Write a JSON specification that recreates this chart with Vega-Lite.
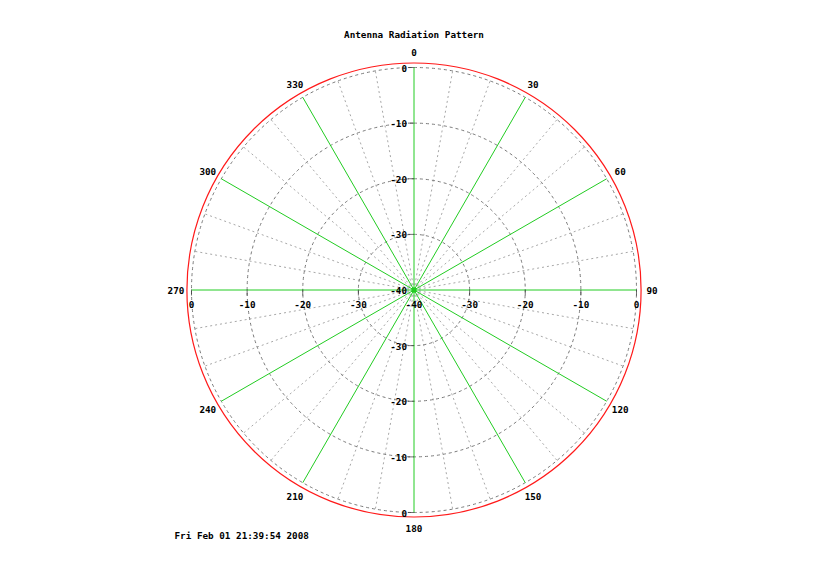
{
  "$schema": "https://vega.github.io/schema/vega-lite/v6.json",
  "width": 828,
  "height": 554,
  "autosize": "none",
  "padding": {"left": 0, "top": 13, "right": 1, "bottom": 0},
  "background": "white",
  "title": {
    "text": "Antenna Radiation Pattern",
    "anchor": "middle",
    "frame": "group",
    "offset": -31,
    "baseline": "middle",
    "font": "DejaVu Sans Mono",
    "fontSize": 9.3,
    "fontWeight": "bold",
    "color": "#000000"
  },
  "config": {
    "view": {"stroke": null},
    "axisX": {"domain": false, "ticks": false, "labels": false, "grid": false}
  },
  "datasets": {
    "rings": [{"db": 0}, {"db": -10}, {"db": -20}, {"db": -30}],
    "spokes": [
      {"angle": 0, "x0": 0, "y0": 0, "x": 0, "y": 40},
      {"angle": 10, "x0": 0, "y0": 0, "x": 6.946, "y": 39.392},
      {"angle": 20, "x0": 0, "y0": 0, "x": 13.681, "y": 37.588},
      {"angle": 30, "x0": 0, "y0": 0, "x": 20, "y": 34.641},
      {"angle": 40, "x0": 0, "y0": 0, "x": 25.712, "y": 30.642},
      {"angle": 50, "x0": 0, "y0": 0, "x": 30.642, "y": 25.712},
      {"angle": 60, "x0": 0, "y0": 0, "x": 34.641, "y": 20},
      {"angle": 70, "x0": 0, "y0": 0, "x": 37.588, "y": 13.681},
      {"angle": 80, "x0": 0, "y0": 0, "x": 39.392, "y": 6.946},
      {"angle": 90, "x0": 0, "y0": 0, "x": 40, "y": 0},
      {"angle": 100, "x0": 0, "y0": 0, "x": 39.392, "y": -6.946},
      {"angle": 110, "x0": 0, "y0": 0, "x": 37.588, "y": -13.681},
      {"angle": 120, "x0": 0, "y0": 0, "x": 34.641, "y": -20},
      {"angle": 130, "x0": 0, "y0": 0, "x": 30.642, "y": -25.712},
      {"angle": 140, "x0": 0, "y0": 0, "x": 25.712, "y": -30.642},
      {"angle": 150, "x0": 0, "y0": 0, "x": 20, "y": -34.641},
      {"angle": 160, "x0": 0, "y0": 0, "x": 13.681, "y": -37.588},
      {"angle": 170, "x0": 0, "y0": 0, "x": 6.946, "y": -39.392},
      {"angle": 180, "x0": 0, "y0": 0, "x": 0, "y": -40},
      {"angle": 190, "x0": 0, "y0": 0, "x": -6.946, "y": -39.392},
      {"angle": 200, "x0": 0, "y0": 0, "x": -13.681, "y": -37.588},
      {"angle": 210, "x0": 0, "y0": 0, "x": -20, "y": -34.641},
      {"angle": 220, "x0": 0, "y0": 0, "x": -25.712, "y": -30.642},
      {"angle": 230, "x0": 0, "y0": 0, "x": -30.642, "y": -25.712},
      {"angle": 240, "x0": 0, "y0": 0, "x": -34.641, "y": -20},
      {"angle": 250, "x0": 0, "y0": 0, "x": -37.588, "y": -13.681},
      {"angle": 260, "x0": 0, "y0": 0, "x": -39.392, "y": -6.946},
      {"angle": 270, "x0": 0, "y0": 0, "x": -40, "y": 0},
      {"angle": 280, "x0": 0, "y0": 0, "x": -39.392, "y": 6.946},
      {"angle": 290, "x0": 0, "y0": 0, "x": -37.588, "y": 13.681},
      {"angle": 300, "x0": 0, "y0": 0, "x": -34.641, "y": 20},
      {"angle": 310, "x0": 0, "y0": 0, "x": -30.642, "y": 25.712},
      {"angle": 320, "x0": 0, "y0": 0, "x": -25.712, "y": 30.642},
      {"angle": 330, "x0": 0, "y0": 0, "x": -20, "y": 34.641},
      {"angle": 340, "x0": 0, "y0": 0, "x": -13.681, "y": 37.588},
      {"angle": 350, "x0": 0, "y0": 0, "x": -6.946, "y": 39.392}
    ],
    "angleLabels": [
      {"angle": 0}, {"angle": 30}, {"angle": 60}, {"angle": 90},
      {"angle": 120}, {"angle": 150}, {"angle": 180}, {"angle": 210},
      {"angle": 240}, {"angle": 270}, {"angle": 300}, {"angle": 330}
    ],
    "dbLabels": [
      {"angle": 270, "db": 0}, {"angle": 270, "db": -10}, {"angle": 270, "db": -20},
      {"angle": 270, "db": -30}, {"angle": 270, "db": -40},
      {"angle": 90, "db": -30}, {"angle": 90, "db": -20}, {"angle": 90, "db": -10}, {"angle": 90, "db": 0},
      {"angle": 0, "db": 0}, {"angle": 0, "db": -10}, {"angle": 0, "db": -20},
      {"angle": 0, "db": -30}, {"angle": 0, "db": -40},
      {"angle": 180, "db": -30}, {"angle": 180, "db": -20}, {"angle": 180, "db": -10}, {"angle": 180, "db": 0}
    ],
    "ticks": [{"r": -40}, {"r": -30}, {"r": -20}, {"r": -10}, {"r": 10}, {"r": 20}, {"r": 30}, {"r": 40}]
  },
  "layer": [
    {
      "data": {"name": "spokes"},
      "transform": [{"filter": "datum.angle % 30 != 0"}],
      "mark": {"type": "rule", "color": "#a8a8a8", "strokeWidth": 1, "strokeDash": [2, 3]},
      "encoding": {
        "x": {"field": "x0", "type": "quantitative", "scale": {"domain": [-74.427, 74.427], "nice": false, "zero": false},
          "axis": {"title": "Fri Feb 01 21:39:54 2008", "titleX": 174, "titleY": -32, "titleAlign": "left", "titleBaseline": "middle", "titleAnchor": "start", "titleFont": "DejaVu Sans Mono", "titleFontSize": 9.3, "titleFontWeight": "bold", "titleColor": "#000000"}},
        "y": {"field": "y0", "type": "quantitative", "scale": {"domain": [-49.798, 49.798], "nice": false, "zero": false}, "axis": null},
        "x2": {"field": "x"},
        "y2": {"field": "y"}
      }
    },
    {
      "data": {"name": "rings"},
      "mark": {"type": "arc", "theta": 0, "theta2": 6.2832, "radius2": 0, "filled": false, "color": "#7a7a7a", "strokeWidth": 1, "strokeDash": [3, 3]},
      "encoding": {
        "radius": {"field": "db", "type": "quantitative", "stack": false, "scale": {"type": "linear", "domain": [-40, 0], "range": [0, 222.5], "zero": false, "nice": false}}
      }
    },
    {
      "data": {"name": "rings"},
      "transform": [{"filter": "datum.db == 0"}],
      "mark": {"type": "arc", "theta": 0, "theta2": 6.2832, "radius2": 0, "filled": false, "color": "#ff1a1a", "strokeWidth": 1.2},
      "encoding": {
        "radius": {"datum": 0.81, "type": "quantitative"}
      }
    },
    {
      "data": {"name": "spokes"},
      "transform": [{"filter": "datum.angle % 30 == 0"}],
      "mark": {"type": "rule", "color": "#22cc22", "strokeWidth": 1},
      "encoding": {
        "x": {"field": "x0", "type": "quantitative"},
        "y": {"field": "y0", "type": "quantitative", "axis": null},
        "x2": {"field": "x"},
        "y2": {"field": "y"}
      }
    },
    {
      "data": {"name": "ticks"},
      "mark": {"type": "tick", "orient": "vertical", "color": "#333333", "size": 6, "thickness": 1},
      "encoding": {
        "x": {"field": "r", "type": "quantitative"},
        "y": {"datum": -0.45, "type": "quantitative", "axis": null}
      }
    },
    {
      "data": {"name": "ticks"},
      "mark": {"type": "tick", "orient": "horizontal", "color": "#333333", "size": 6, "thickness": 1},
      "encoding": {
        "y": {"field": "r", "type": "quantitative", "axis": null},
        "x": {"datum": -0.55, "type": "quantitative"}
      }
    },
    {
      "data": {"name": "rings"},
      "transform": [{"filter": "datum.db == 0"}],
      "mark": {"type": "point", "filled": true, "color": "#22cc22", "size": 28, "opacity": 1},
      "encoding": {
        "x": {"datum": 0, "type": "quantitative"},
        "y": {"datum": 0, "type": "quantitative", "axis": null}
      }
    },
    {
      "data": {"name": "angleLabels"},
      "mark": {"type": "text", "font": "DejaVu Sans Mono", "fontSize": 9.3, "fontWeight": "bold", "color": "#000000", "align": "center", "baseline": "middle", "dy": 1},
      "encoding": {
        "theta": {"field": "angle", "type": "quantitative", "stack": false, "scale": {"domain": [0, 360], "range": [0, 6.283185], "zero": false, "nice": false}},
        "radius": {"datum": 2.8, "type": "quantitative"},
        "text": {"field": "angle", "type": "nominal"}
      }
    },
    {
      "data": {"name": "dbLabels"},
      "transform": [{"filter": "datum.angle == 90 || datum.angle == 270"}],
      "mark": {"type": "text", "font": "DejaVu Sans Mono", "fontSize": 9.3, "fontWeight": "bold", "color": "#000000", "align": "center", "baseline": "middle", "dy": 15},
      "encoding": {
        "theta": {"field": "angle", "type": "quantitative", "stack": false},
        "radius": {"field": "db", "type": "quantitative", "stack": false},
        "text": {"field": "db", "type": "nominal"}
      }
    },
    {
      "data": {"name": "dbLabels"},
      "transform": [{"filter": "datum.angle == 0 || datum.angle == 180"}],
      "mark": {"type": "text", "font": "DejaVu Sans Mono", "fontSize": 9.3, "fontWeight": "bold", "color": "#000000", "align": "right", "baseline": "middle", "dx": -7, "dy": 1},
      "encoding": {
        "theta": {"field": "angle", "type": "quantitative", "stack": false},
        "radius": {"field": "db", "type": "quantitative", "stack": false},
        "text": {"field": "db", "type": "nominal"}
      }
    }
  ]
}
